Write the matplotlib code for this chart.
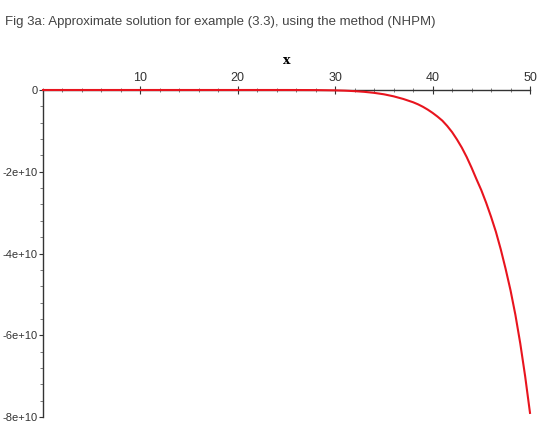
import matplotlib
matplotlib.use("Agg")
import matplotlib.pyplot as plt
from matplotlib.ticker import MultipleLocator

# Data (y in units of 1e10)
x_vals = [0, 10, 20, 25, 28, 30, 31, 32, 33, 34, 35, 36, 37, 38, 38.5, 39, 39.5,
          40, 40.5, 41, 41.5, 42, 42.5, 43, 43.5, 44, 44.5, 45, 45.5, 46, 46.5,
          47, 47.5, 48, 48.5, 49, 49.5, 50]
y_e10 = [0, 0, 0, 0, -0.002, -0.009, -0.016, -0.028, -0.045, -0.07, -0.105, -0.155,
         -0.22, -0.30, -0.35, -0.41, -0.48,
         -0.56, -0.65, -0.75, -0.88, -1.03, -1.21, -1.41, -1.64, -1.9, -2.18, -2.45,
         -2.76, -3.1, -3.47, -3.9, -4.38, -4.9, -5.5, -6.2, -7.0, -7.9]
y_vals = [v * 1e10 for v in y_e10]

x_ticks = [10, 20, 30, 40, 50]
y_ticks = [0, -2e10, -4e10, -6e10, -8e10]
y_tick_labels = ["0", "-2e+10", "-4e+10", "-6e+10", "-8e+10"]

title = "Fig 3a: Approximate solution for example (3.3), using the method (NHPM)"

plt.rcParams['font.family'] = ['Liberation Sans', 'DejaVu Sans']

fig = plt.figure(figsize=(5.38, 4.28), dpi=100)
ax = fig.add_axes([43/538, 1 - 417/428, 487/538, (417 - 90)/428])

ax.plot(x_vals, y_vals, color='#e8141e', lw=1.5, zorder=3, clip_on=False)

ax.set_xlim(0, 50)
ax.set_ylim(-8e10, 0)

for s in ['bottom', 'right']:
    ax.spines[s].set_visible(False)
for s in ['top', 'left']:
    ax.spines[s].set_color('#333333')
    ax.spines[s].set_linewidth(1.0)

ax.xaxis.set_ticks_position('top')
ax.xaxis.set_label_position('top')
ax.set_xticks(x_ticks)
ax.xaxis.set_minor_locator(MultipleLocator(2))
ax.set_yticks(y_ticks)
ax.set_yticklabels(y_tick_labels)
ax.yaxis.set_minor_locator(MultipleLocator(0.4e10))

ax.tick_params(axis='x', which='major', direction='inout', length=6, width=0.8,
               labelsize=9, colors='#333333', pad=1)
ax.tick_params(axis='x', which='minor', direction='inout', length=3, width=0.6, colors='#666666')
ax.tick_params(axis='y', which='major', direction='out', length=3, width=0.8,
               labelsize=8, colors='#333333', pad=1)
ax.tick_params(axis='y', which='minor', direction='out', length=2, width=0.6, colors='#666666')

ax.set_xlabel('x', fontsize=9, fontweight='bold', labelpad=6, family=['DejaVu Serif'])

fig.text(5/538, 1 - 22/428, title, fontsize=9.5, color='#444444', va='center', ha='left')

fig.savefig('out.png', dpi=100)
